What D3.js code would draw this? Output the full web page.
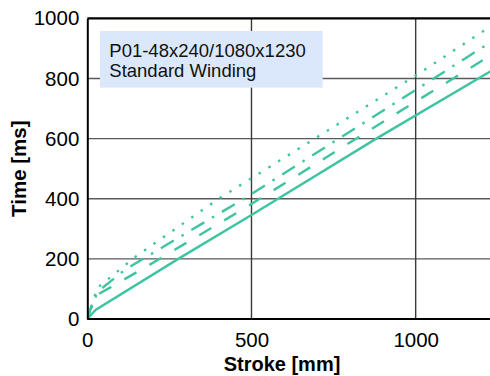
<!DOCTYPE html>
<html>
<head>
<meta charset="utf-8">
<script src="https://cdn.jsdelivr.net/npm/d3@7"></script>
<style>
html,body{margin:0;padding:0;background:#fff;}
svg{display:block;}
text{font-family:"Liberation Sans",Arial,Helvetica,sans-serif;}
</style>
</head>
<body>
<svg id="chart" width="490" height="376"></svg>
<script>
// ---- data ----
const xTicks = [0, 500, 1000];
const yTicks = [0, 200, 400, 600, 800, 1000];
const xDomain = [0, 1230];
const yDomain = [0, 1000];
const seriesSolid    = [[0,0],[25,30],[277,200],[500,346],[880,600],[1230,825]];
const seriesLongDash = [[0,0],[22,75],[172,169],[480,369],[967,701],[1230,878]];
const seriesDashDot  = [[0,0],[25,85],[116,165],[480,402],[984,751],[1230,922]];
const seriesDotted   = [[0,0],[38,110],[150,210],[400,400],[700,605],[1000,810],[1230,975]];
const boxLines = ["P01-48x240/1080x1230", "Standard Winding"];
const xTitle = "Stroke [mm]";
const yTitle = "Time [ms]";

// ---- layout ----
const mL = 87.3, mR = 491.2, mT = 18.4, mB = 319;
const svg = d3.select("#chart");
const x = d3.scaleLinear().domain(xDomain).range([mL, mR]);
const y = d3.scaleLinear().domain(yDomain).range([mB, mT]);
const color = "#3fc4a2";

// grid
const g = svg.append("g");
g.selectAll(".hg").data(yTicks.filter(d => d > 0 && d < 1000)).enter().append("line")
  .attr("x1", mL).attr("x2", 490).attr("y1", d => y(d)).attr("y2", d => y(d))
  .attr("stroke", "#5a5a5a").attr("stroke-width", 1.4);
g.selectAll(".vg").data(xTicks.filter(d => d > 0)).enter().append("line")
  .attr("y1", mT).attr("y2", mB).attr("x1", d => x(d)).attr("x2", d => x(d))
  .attr("stroke", "#3a3a3a").attr("stroke-width", 1.4);

// annotation box
const bx = svg.append("g");
bx.append("rect").attr("x", 100).attr("y", 31).attr("width", 222.7).attr("height", 56.7)
  .attr("fill", "#dbe8fc");
bx.selectAll("text").data(boxLines).enter().append("text")
  .attr("x", 109.3).attr("y", (d, i) => 56.5 + i * 20.2)
  .attr("font-size", 18.5).attr("fill", "#111").text(d => d);

// lines
const line = d3.line().x(d => x(d[0])).y(d => y(d[1]));
const defs = [
  {data: seriesSolid, dash: null},
  {data: seriesLongDash, dash: "14,15"},
  {data: seriesDashDot, dash: "15,9,2.5,9"},
  {data: seriesDotted, dash: "2.5,9"}
];
svg.append("clipPath").attr("id", "clip").append("rect")
  .attr("x", mL).attr("y", mT).attr("width", mR - mL).attr("height", mB - mT);
const lg = svg.append("g").attr("clip-path", "url(#clip)");
defs.forEach(s => {
  lg.append("path").datum(s.data).attr("d", line)
    .attr("fill", "none").attr("stroke", color).attr("stroke-width", 2.4)
    .attr("stroke-dasharray", s.dash);
});

// axes frame
svg.append("line").attr("x1", mL).attr("x2", 490).attr("y1", mT).attr("y2", mT)
  .attr("stroke", "#000").attr("stroke-width", 2.2);
const xAxis = d3.axisBottom(x).tickValues(xTicks).tickSize(0).tickPadding(13).tickFormat(d3.format("d"));
const yAxis = d3.axisLeft(y).tickValues(yTicks).tickSize(0).tickPadding(8).tickFormat(d3.format("d"));
const xa = svg.append("g").attr("transform", `translate(0,${mB})`).call(xAxis);
const ya = svg.append("g").attr("transform", `translate(${mL},0)`).call(yAxis);
[xa, ya].forEach(a => {
  a.select(".domain").attr("stroke", "#000").attr("stroke-width", 2);
  a.selectAll("text").attr("font-size", 20.5).attr("fill", "#000")
    .attr("font-family", "'Liberation Sans',Arial,Helvetica,sans-serif");
});
xa.select(".domain").attr("d", `M${mL},0H490`);

// titles
svg.append("text").attr("x", 282).attr("y", 371).attr("text-anchor", "middle")
  .attr("font-size", 20).attr("font-weight", "bold").attr("fill", "#000").text(xTitle);
svg.append("text").attr("transform", `translate(26,${(mT + mB) / 2}) rotate(-90)`)
  .attr("text-anchor", "middle").attr("font-size", 20.5).attr("font-weight", "bold")
  .attr("fill", "#000").text(yTitle);
</script>
</body>
</html>
